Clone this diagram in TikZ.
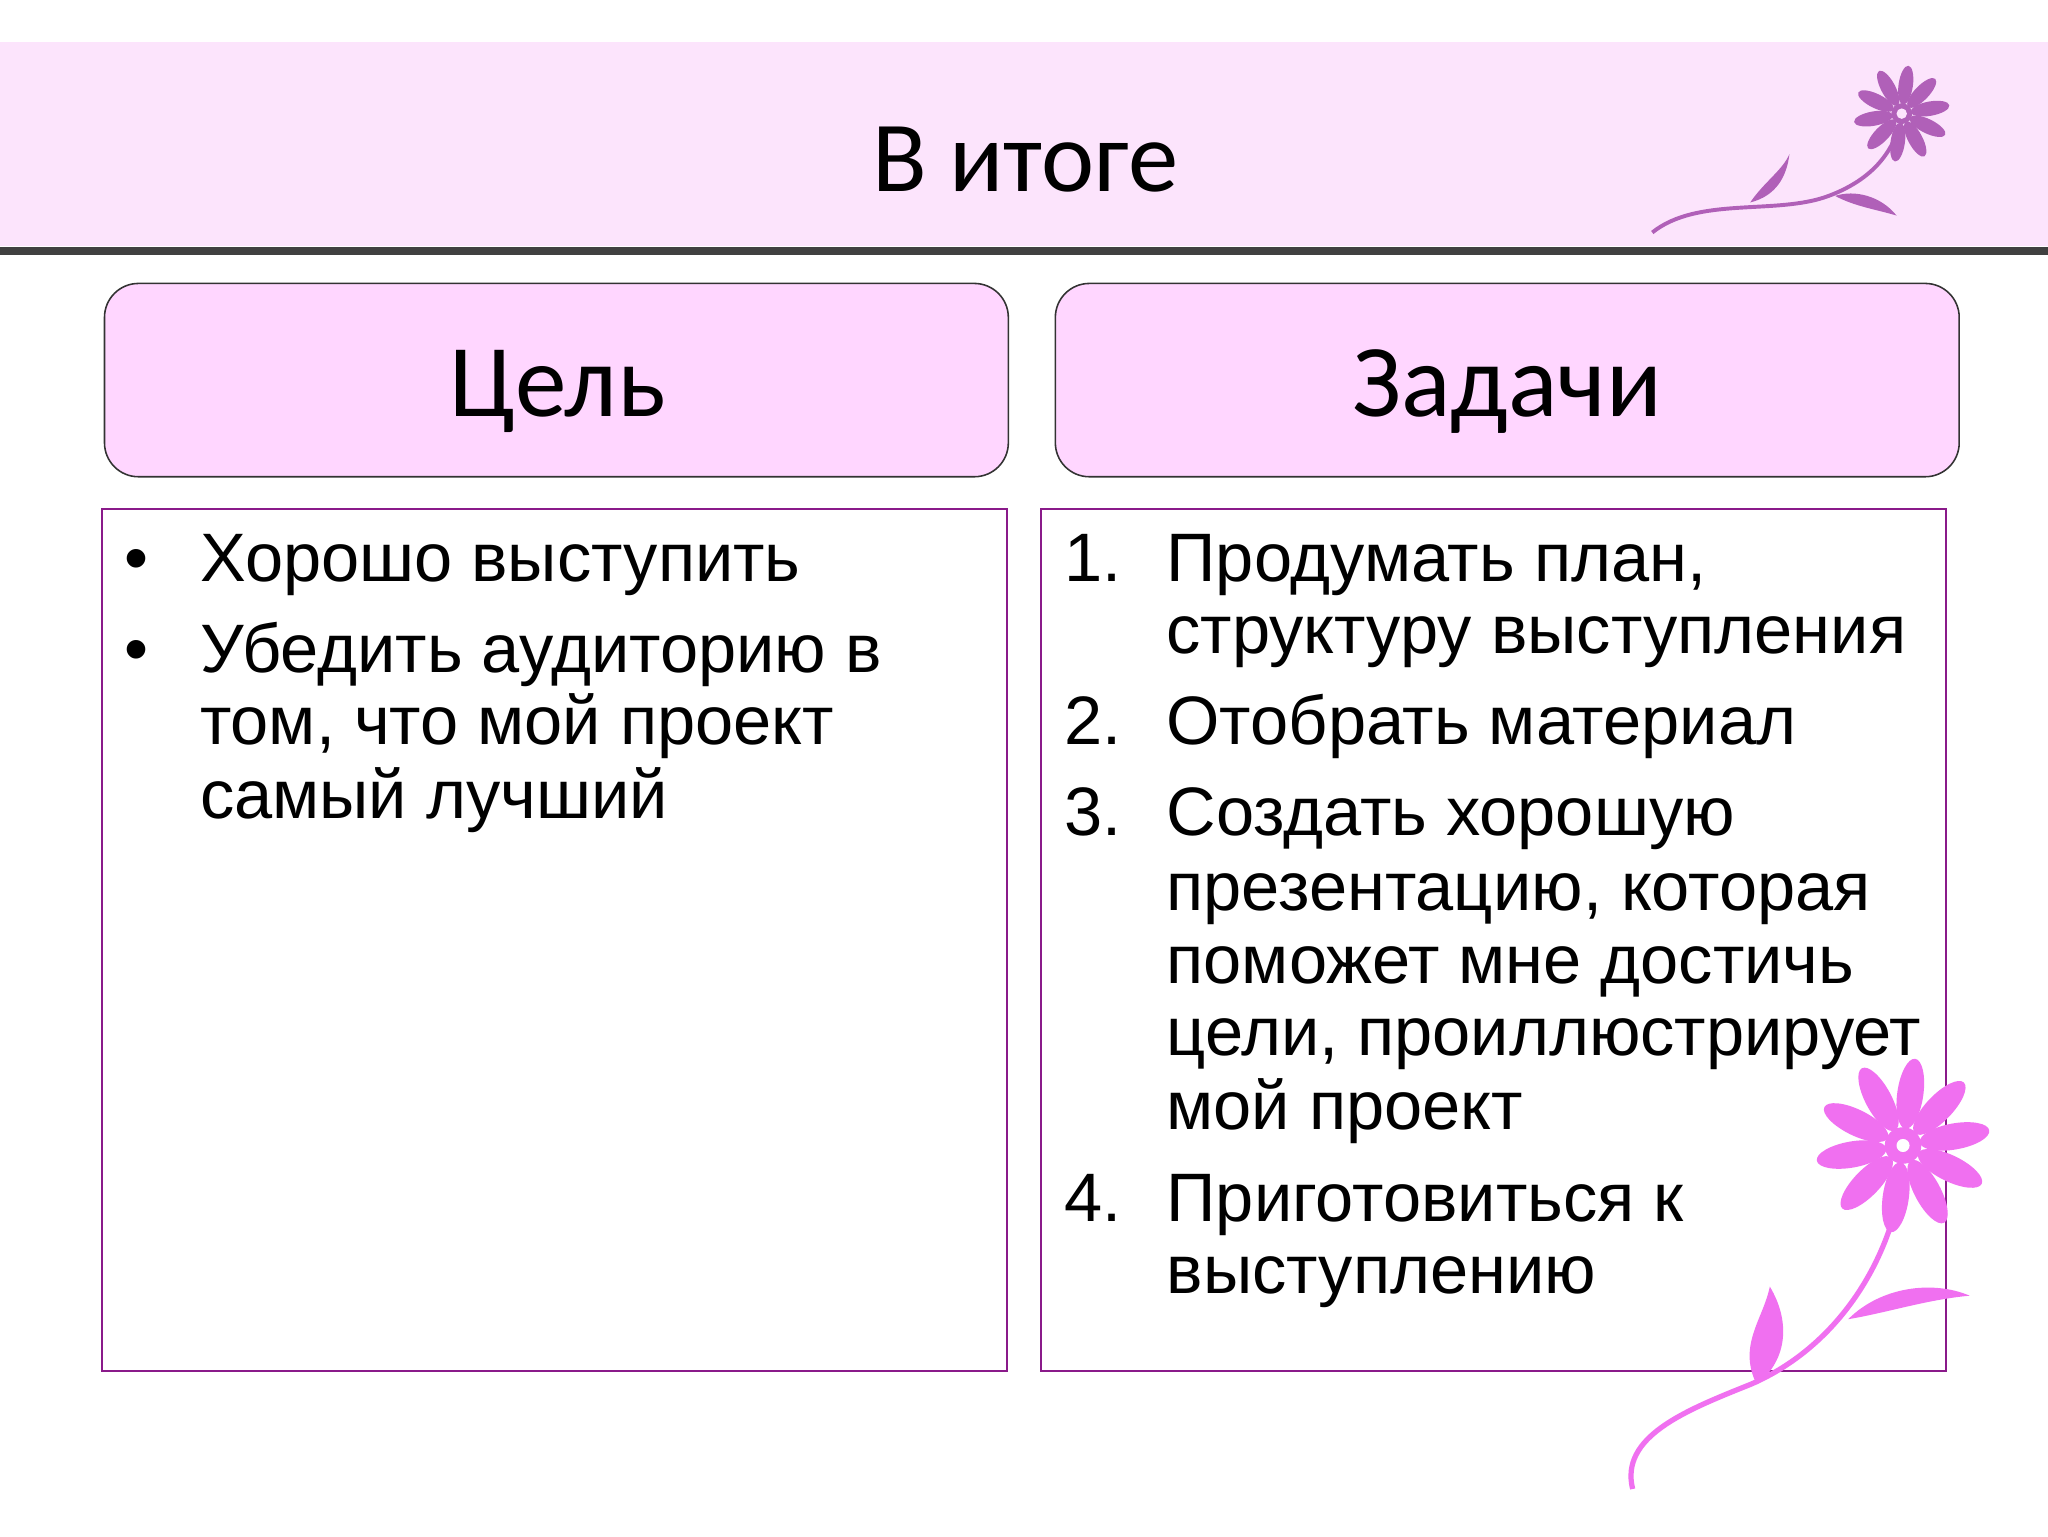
\documentclass[tikz,border=0pt]{standalone}
\usepackage{fontspec}
\setmainfont{Liberation Sans}
\newfontfamily\headfont{Carlito}
\begin{document}
\begin{tikzpicture}[x=1pt,y=-1pt,
  hdr/.style={draw=black!80,line width=1.2pt,fill=hdrpink,rounded corners=26pt},
  cbox/.style={draw=boxpurple,line width=1.5pt},
  body/.style={anchor=base west,inner sep=0pt,font=\fontsize{52.5}{56}\selectfont},
]
\definecolor{hdrpink}{HTML}{FFD6FF}
\definecolor{bandpink}{HTML}{FCE4FC}
\definecolor{boxpurple}{HTML}{8A1A8A}
\definecolor{fl1}{HTML}{B060B8}
\definecolor{fl2}{HTML}{F070F0}
\useasboundingbox (0,0) rectangle (1568,1176);
\fill[white] (0,0) rectangle (1568,1176);
\fill[bandpink] (0,32) rectangle (1568,188);
\fill[black!75] (0,189) rectangle (1568,195);
\node[font=\headfont\fontsize{77}{80}\selectfont] (title) at (785,122) {В итоге};
% flower 1
\draw[fl1,line width=3pt] (1265,178) .. controls (1300,150) and (1360,165) .. (1400,150) .. controls (1440,135) and (1450,110) .. (1455,95);
\fill[fl1] (1340,155) .. controls (1350,140) and (1365,130) .. (1370,118) .. controls (1368,135) and (1360,150) .. (1340,155);
\fill[fl1] (1405,150) .. controls (1420,145) and (1440,150) .. (1452,165) .. controls (1435,160) and (1420,158) .. (1405,150);
\foreach \a in {0,36,...,324}
  \fill[fl1,rotate around={\a+10:(1456,87)}] (1478,87) ellipse (15pt and 5.5pt);
\fill[fl1] (1456,87) circle (8pt);
\fill[bandpink] (1456,87) circle (4pt);
% header boxes
\draw[hdr] (80,217) rectangle (772,365);
\node[font=\headfont\fontsize{79}{84}\selectfont] (goal) at (427,300) {Цель};
\draw[hdr] (808,217) rectangle (1500,365);
\node[font=\headfont\fontsize{79}{84}\selectfont] (tasks) at (1154,300) {Задачи};
% content boxes
\draw[cbox] (78,390) rectangle (771,1050);
\draw[cbox] (797,390) rectangle (1490,1050);
% left text
\node[body] (b1) at (95,445) {•};
\node[body] (l1) at (153,445) {Хорошо выступить};
\node[body] (b2) at (95,515) {•};
\node[body] (l2) at (153,515) {Убедить аудиторию в};
\node[body] (l3) at (153,570) {том, что мой проект};
\node[body] (l4) at (153,627) {самый лучший};
% right text
\node[body] (n1) at (815,445) {1.};
\node[body] (r1) at (893,445) {Продумать план,};
\node[body] (r2) at (893,500) {структуру выступления};
\node[body] (n2) at (815,570) {2.};
\node[body] (r3) at (893,570) {Отобрать материал};
\node[body] (n3) at (815,640) {3.};
\node[body] (r4) at (893,640) {Создать хорошую};
\node[body] (r5) at (893,697) {презентацию, которая};
\node[body] (r6) at (893,753) {поможет мне достичь};
\node[body] (r7) at (893,808) {цели, проиллюстрирует};
\node[body] (r8) at (893,865) {мой проект};
\node[body] (n4) at (815,935) {4.};
\node[body] (r9) at (893,935) {Приготовиться к};
\node[body] (r10) at (893,990) {выступлению};
% flower 2
\draw[fl2,line width=4pt] (1250,1140) .. controls (1240,1100) and (1290,1080) .. (1340,1060) .. controls (1410,1030) and (1450,960) .. (1457,895);
\fill[fl2] (1345,1060) .. controls (1330,1030) and (1350,1010) .. (1355,985) .. controls (1370,1010) and (1370,1040) .. (1345,1060);
\fill[fl2] (1415,1010) .. controls (1440,985) and (1480,980) .. (1508,992) .. controls (1475,995) and (1445,1005) .. (1415,1010);
\foreach \a in {0,36,...,324}
  \fill[fl2,rotate around={\a+10:(1457,877)}] (1497,877) ellipse (27pt and 10pt);
\fill[fl2] (1457,877) circle (14pt);
\fill[white] (1457,877) circle (5pt);
\end{tikzpicture}
\end{document}
